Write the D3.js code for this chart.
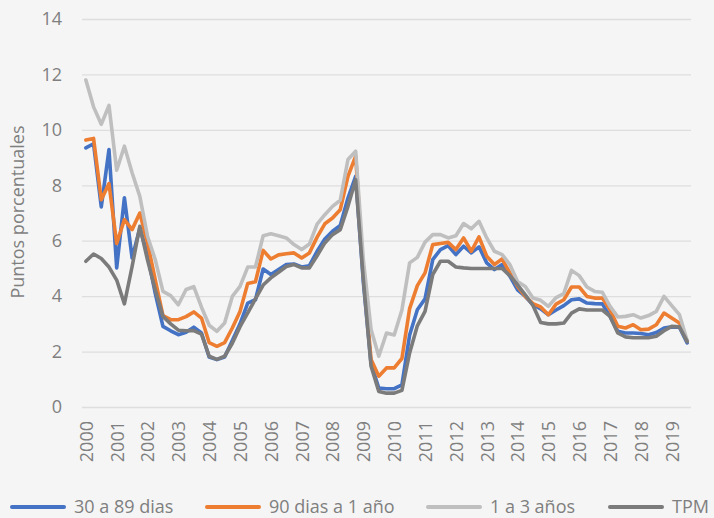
<!DOCTYPE html>
<html>
<head>
<meta charset="utf-8">
<script src="https://cdn.jsdelivr.net/npm/d3@7"></script>
<style>
  body { margin: 0; background: #f5f5f5; }
  svg { display: block; font-family: "Open Sans", "Liberation Sans", sans-serif; }
  .tick text { fill: #7f7f7f; }
</style>
</head>
<body>
<svg width="714" height="518"></svg>
<script>
// quarterly data, 2000T1 .. 2019T3
const years = [2000, 2001, 2002, 2003, 2004, 2005, 2006, 2007, 2008, 2009,
               2010, 2011, 2012, 2013, 2014, 2015, 2016, 2017, 2018, 2019];
const quarters = years.flatMap(y => ["T1", "T2", "T3", "T4"].map(q => y + q)).slice(0, 79);

const d30a89 = [9.35, 9.5, 7.22, 9.29, 5.02, 7.55, 5.38, 6.45, 5.5, 4.1,
  2.91, 2.75, 2.61, 2.7, 2.88, 2.67, 1.8, 1.71, 1.8, 2.4,
  3.0, 3.75, 3.87, 4.98, 4.78, 4.96, 5.14, 5.16, 5.05, 5.1,
  5.62, 6.06, 6.34, 6.55, 7.54, 8.32, 4.5, 1.55, 0.68, 0.66,
  0.66, 0.8, 2.6, 3.51, 3.9, 5.32, 5.68, 5.82, 5.5, 5.8,
  5.56, 5.78, 5.2, 4.96, 5.14, 4.72, 4.23, 3.99, 3.69, 3.54,
  3.33, 3.5, 3.66, 3.87, 3.9, 3.75, 3.73, 3.72, 3.27, 2.73,
  2.67, 2.67, 2.65, 2.61, 2.69, 2.85, 2.89, 2.88, 2.31];

const d90a1 = [9.63, 9.69, 7.48, 8.06, 5.9, 6.76, 6.4, 7.0, 5.92, 4.6,
  3.3, 3.15, 3.15, 3.26, 3.43, 3.21, 2.32, 2.19, 2.32, 2.85,
  3.45, 4.46, 4.52, 5.65, 5.34, 5.49, 5.53, 5.56, 5.38, 5.56,
  6.13, 6.61, 6.82, 7.12, 8.32, 9.05, 4.8, 1.71, 1.11, 1.41,
  1.41, 1.75, 3.55, 4.38, 4.84, 5.86, 5.9, 5.94, 5.68, 6.1,
  5.62, 6.14, 5.44, 5.14, 5.34, 4.84, 4.35, 3.99, 3.73, 3.61,
  3.33, 3.71, 3.87, 4.33, 4.33, 3.99, 3.93, 3.93, 3.51, 2.91,
  2.85, 2.97, 2.79, 2.81, 2.97, 3.39, 3.21, 3.03, 2.37];

const d1a3 = [11.8, 10.83, 10.2, 10.88, 8.54, 9.41, 8.45, 7.6, 6.16, 5.32,
  4.17, 4.02, 3.69, 4.24, 4.34, 3.6, 2.95, 2.73, 3.03, 3.99,
  4.35, 5.05, 5.05, 6.18, 6.25, 6.18, 6.1, 5.86, 5.68, 5.88,
  6.6, 6.94, 7.24, 7.46, 8.93, 9.23, 5.3, 2.8, 1.83, 2.67,
  2.6, 3.5, 5.2, 5.4, 5.95, 6.22, 6.22, 6.1, 6.18, 6.62,
  6.43, 6.7, 6.1, 5.62, 5.5, 5.14, 4.53, 4.35, 3.93, 3.85,
  3.63, 3.95, 4.09, 4.93, 4.74, 4.33, 4.17, 4.14, 3.63, 3.25,
  3.27, 3.33, 3.21, 3.3, 3.45, 3.99, 3.66, 3.33, 2.4];

const tpm = [5.26, 5.52, 5.36, 5.05, 4.58, 3.72, 5.07, 6.52, 5.3, 4.23,
  3.27, 3.0, 2.77, 2.75, 2.76, 2.63, 1.83, 1.72, 1.83, 2.3,
  2.9, 3.4, 3.9, 4.4, 4.66, 4.86, 5.07, 5.14, 5.02, 5.02,
  5.46, 5.92, 6.22, 6.4, 7.24, 8.2, 4.6, 1.47, 0.56, 0.5,
  0.5, 0.6, 1.95, 2.93, 3.45, 4.78, 5.26, 5.26, 5.05, 5.02,
  5.0, 5.0, 5.0, 5.0, 5.0, 4.74, 4.41, 4.05, 3.66, 3.05,
  3.0, 3.0, 3.03, 3.39, 3.54, 3.5, 3.5, 3.5, 3.27, 2.67,
  2.53, 2.5, 2.5, 2.5, 2.55, 2.75, 2.91, 2.89, 2.37];

const seriesNames = ["30 a 89 dias", "90 dias a 1 año", "1 a 3 años", "TPM"];
const seriesValues = [d30a89, d90a1, d1a3, tpm];
const colors = ["#4472c4", "#ed7d31", "#bfbfbf", "#7b7b7b"];

const svg = d3.select("svg");
const mLeft = 82, mRight = 691, mTop = 19, mBottom = 407;

const x = d3.scalePoint().domain(quarters).range([mLeft, mRight]).padding(0.5);
const y = d3.scaleLinear().domain([0, 14]).range([mBottom, mTop]);

// gridlines
svg.append("g")
  .attr("transform", `translate(${mLeft},0)`)
  .call(d3.axisLeft(y).tickValues(d3.range(0, 15, 2)).tickSize(-(mRight - mLeft)).tickFormat(""))
  .call(g => g.select(".domain").remove())
  .call(g => g.selectAll("line").attr("stroke", "#dedede").attr("stroke-width", 1.3));

// y labels
svg.append("g")
  .attr("transform", `translate(${mLeft},0)`)
  .call(d3.axisLeft(y).tickValues(d3.range(0, 15, 2)).tickSize(0).tickPadding(20))
  .call(g => g.select(".domain").remove())
  .call(g => g.selectAll("text").attr("font-size", 18).attr("font-family", "Open Sans"));

// x labels
svg.append("g")
  .attr("transform", `translate(0,${mBottom})`)
  .call(d3.axisBottom(x).tickValues(quarters.filter(q => q.endsWith("T1"))).tickSize(0).tickFormat(q => q.slice(0, 4)))
  .call(g => g.select(".domain").remove())
  .call(g => g.selectAll("text")
    .attr("font-size", 18)
    .attr("font-family", "Open Sans")
    .attr("transform", "rotate(-90)")
    .attr("text-anchor", "end")
    .attr("x", -14)
    .attr("y", 0)
    .attr("dy", "0.35em"));

// axis title
svg.append("text")
  .attr("transform", "translate(24,212) rotate(-90)")
  .attr("text-anchor", "middle")
  .attr("font-size", 18)
  .attr("fill", "#7f7f7f")
  .text("Puntos porcentuales");

const line = d3.line()
  .x((d, i) => x(quarters[i]))
  .y(d => y(d));

svg.append("g")
  .selectAll("path")
  .data(seriesValues)
  .join("path")
  .attr("d", line)
  .attr("fill", "none")
  .attr("stroke", (d, i) => colors[i])
  .attr("stroke-width", 3.6)
  .attr("stroke-linejoin", "round")
  .attr("stroke-linecap", "round");

// legend
const legendX = [12, 207, 428, 610];
const legend = svg.append("g")
  .selectAll("g")
  .data(seriesNames)
  .join("g")
  .attr("transform", (d, i) => `translate(${legendX[i]},507)`);

legend.append("line")
  .attr("x1", 0).attr("x2", 52)
  .attr("stroke", (d, i) => colors[i])
  .attr("stroke-width", 4)
  .attr("stroke-linecap", "round");

legend.append("text")
  .attr("x", 62)
  .attr("dy", "0.35em")
  .attr("font-size", 18)
  .attr("fill", "#7f7f7f")
  .text(d => d);
</script>
</body>
</html>
